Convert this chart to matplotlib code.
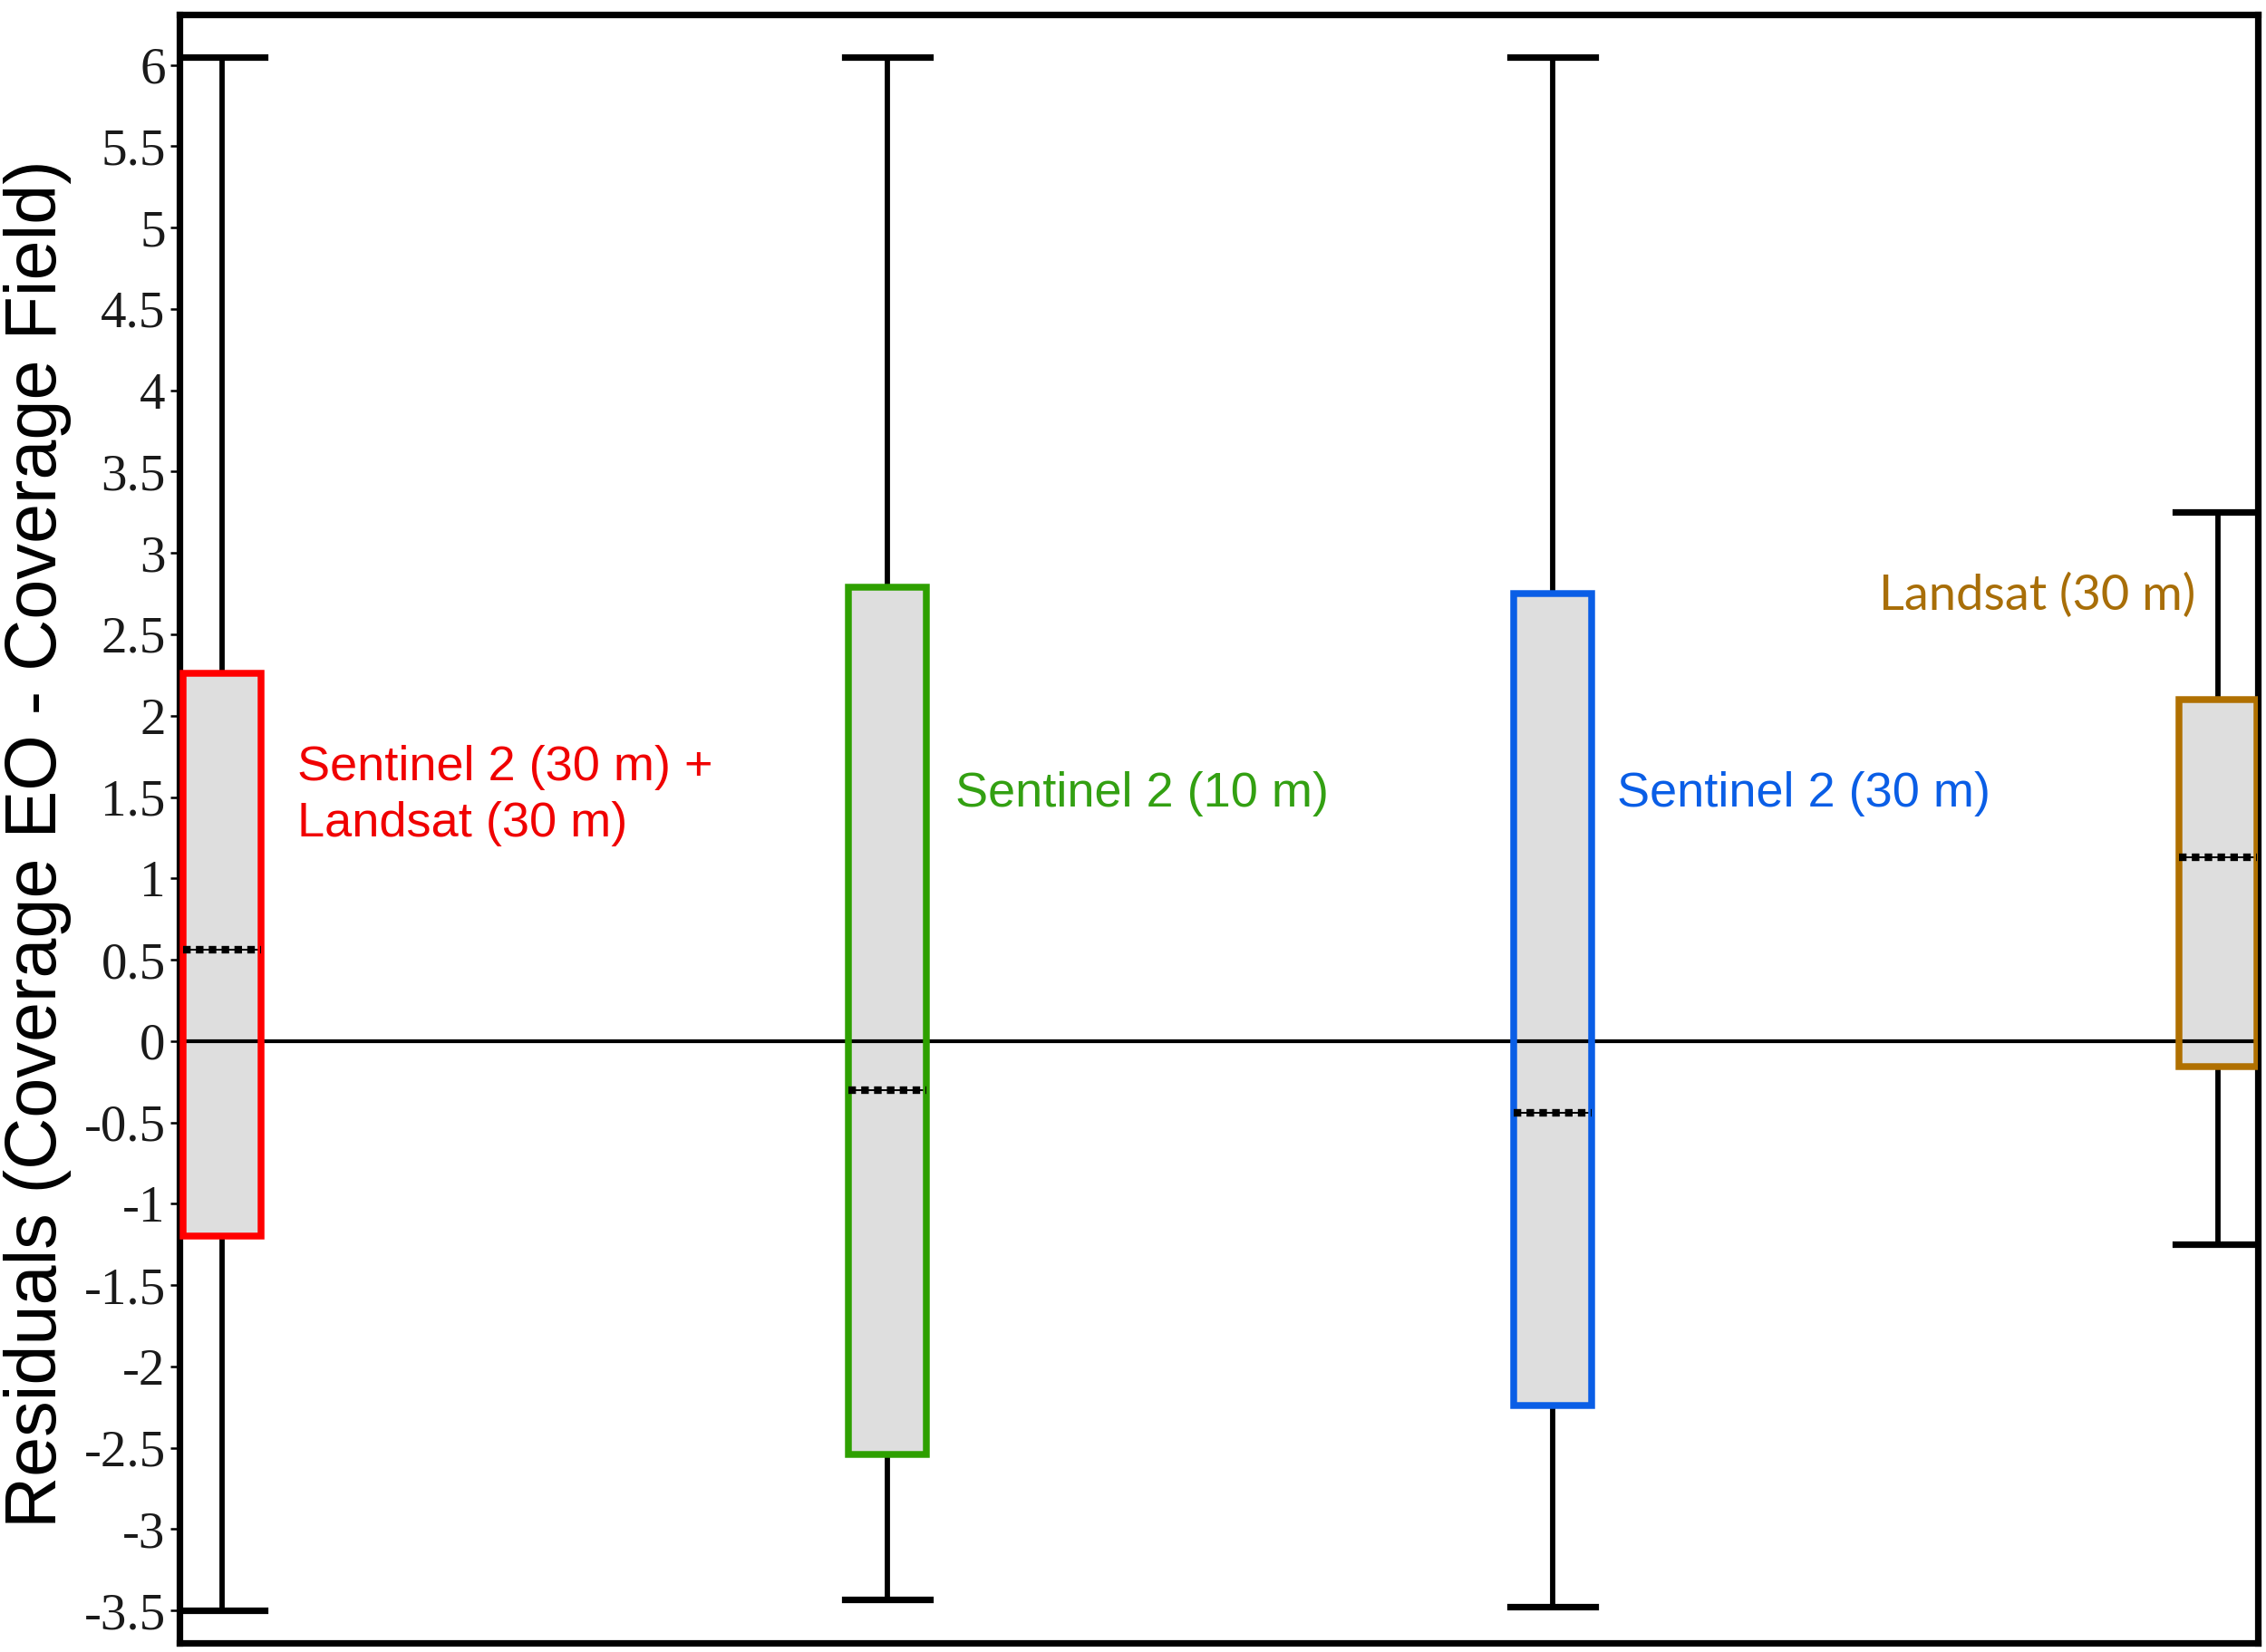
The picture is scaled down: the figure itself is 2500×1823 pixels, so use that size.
import matplotlib
matplotlib.use("Agg")
import matplotlib.pyplot as plt
import numpy as np

plt.rcParams['axes.unicode_minus'] = False

# five-number summaries
sensors = ["Sentinel 2 (30 m) +\nLandsat (30 m)", "Sentinel 2 (10 m)", "Sentinel 2 (30 m)", "Landsat (30 m)"]
whisker_low = [-3.5, -3.43, -3.48, -1.25]
q1 = [-1.2, -2.54, -2.24, -0.16]
medians = [0.56, -0.30, -0.44, 1.13]
q3 = [2.26, 2.79, 2.75, 2.10]
whisker_high = [6.05, 6.05, 6.05, 3.25]
edge_colors = ['#ff0000', '#2ea000', '#0a5ee6', '#b07000']
text_colors = ['#f00000', '#33a012', '#0a5ee6', '#a86e08']
y_ticks = np.arange(-3.5, 6.01, 0.5)

positions = np.arange(1, len(sensors) + 1)
stats = [dict(whislo=lo, q1=a, med=m, q3=b, whishi=hi)
         for lo, a, m, b, hi in zip(whisker_low, q1, medians, q3, whisker_high)]

fig = plt.figure(figsize=(25, 18.23), dpi=100)
ax = fig.add_axes([0.0792, 0.0055, 0.9172, 0.9857])

# fill, whiskers, caps and a thin median line underneath
ax.bxp(stats, positions=positions, widths=0.116, showfliers=False, patch_artist=True,
       boxprops=dict(facecolor='#dedede', edgecolor='none', zorder=2),
       whiskerprops=dict(color='black', linewidth=4.2, zorder=1.9),
       capprops=dict(color='black', linewidth=5.2, zorder=2),
       capwidths=0.127,
       medianprops=dict(color='black', linewidth=1.4, zorder=2.6))

ax.axhline(0, color='black', linewidth=3.0, zorder=2.5)

# coloured box outlines and dotted medians on top
outline = ax.bxp(stats, positions=positions, widths=0.116, showfliers=False, patch_artist=True,
                 boxprops=dict(facecolor='none', linewidth=5.4, zorder=3),
                 whiskerprops=dict(linestyle='none'),
                 capprops=dict(linestyle='none'),
                 medianprops=dict(color='black', linewidth=6, linestyle=(0, (1.0, 0.7)), zorder=3.1))
for box, c in zip(outline['boxes'], edge_colors):
    box.set_edgecolor(c)

ax.set_xlim(0.936, 4.06)
ax.set_ylim(-3.70, 6.31)
ax.set_xticks([])
ax.set_yticks(y_ticks)
ax.set_yticklabels([f"{v:g}" for v in y_ticks], fontfamily='Liberation Serif',
                   fontsize=41, color='#1a1a1a')
ax.tick_params(axis='y', direction='out', length=7, width=1.8, pad=4)
for s in ax.spines.values():
    s.set_linewidth(5.2)

# sensor labels next to the boxes
label_xy = [(1.113, 1.51), (2.102, 1.52), (3.097, 1.52), (3.490, 2.74)]
for i, (name, (tx, ty)) in enumerate(zip(sensors, label_xy)):
    fam = 'Lato' if i == 3 else 'Liberation Sans'
    size = 39
    ax.text(tx, ty, name, color=text_colors[i], fontsize=size, family=fam,
            ha='left', va='center', linespacing=1.3)

fig.text(0.0168, 0.489, "Residuals (Coverage EO - Coverage Field)", rotation=90,
         ha='center', va='center', fontsize=57, family='Liberation Sans', color='black')

fig.savefig("out.png", dpi=100)
